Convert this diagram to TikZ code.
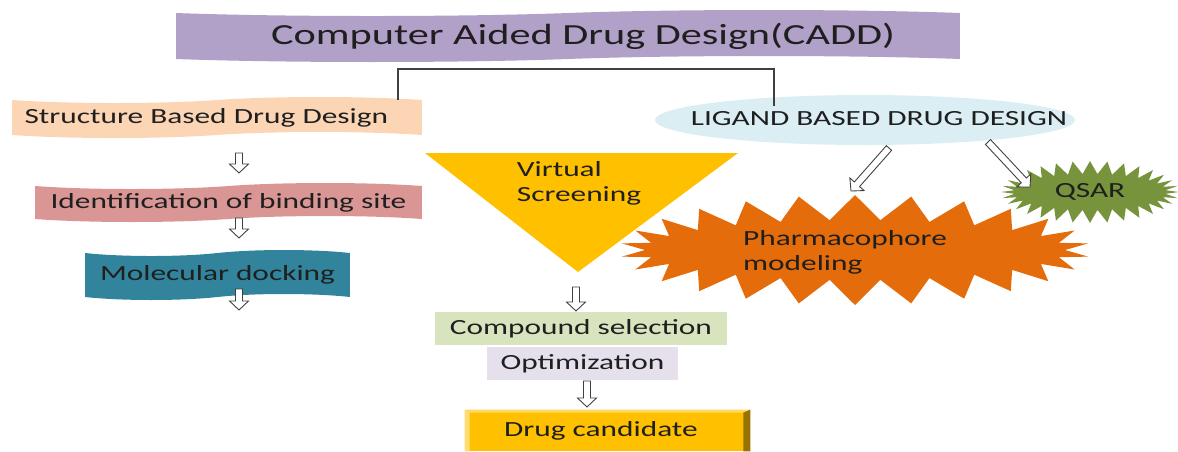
\documentclass[tikz,border=0pt]{standalone}
\usepackage{fontspec}
\setmainfont[FakeStretch=1.45]{Carlito}
\usetikzlibrary{calc,positioning,shapes.symbols,shapes.geometric}
\definecolor{caddpurple}{HTML}{B1A0C7}
\definecolor{sbddpeach}{HTML}{FCD5B5}
\definecolor{identpink}{HTML}{D99694}
\definecolor{dockteal}{HTML}{31849B}
\definecolor{vsyellow}{HTML}{FFC000}
\definecolor{cmpgreen}{HTML}{D7E4BD}
\definecolor{optlilac}{HTML}{E5E0EC}
\definecolor{lbddblue}{HTML}{DBEEF4}
\definecolor{pharmorange}{HTML}{E46C0A}
\definecolor{qsargreen}{HTML}{77933C}
\definecolor{textgrey}{HTML}{1F1F1F}
\newcommand{\titlefont}{\fontsize{16.6}{19}\selectfont}
\newcommand{\boxfont}{\fontsize{12.3}{14.3}\selectfont}
\newcommand{\HollowArrow}[2]% #1=tail, #2=tip: open block arrow from #1 to #2
{\coordinate (hbase) at ($(#2)!0.18cm!(#1)$);
 \filldraw[arrowline] ($(#1)!0.07cm!90:(#2)$) -- ($(hbase)!0.07cm!90:(#2)$)
   -- ($(hbase)!0.19cm!90:(#2)$) -- (#2) -- ($(hbase)!0.19cm!-90:(#2)$)
   -- ($(hbase)!0.07cm!-90:(#2)$) -- ($(#1)!0.07cm!-90:(#2)$) -- cycle;
}

\begin{document}
\begin{tikzpicture}[x=0.02cm,y=-0.02cm,
    font=\boxfont, text=textgrey,
    wave/.style={tape, tape bend height=0.12cm, inner sep=0pt},
    plainbox/.style={rectangle, inner sep=0pt},
    burst/.style={starburst, random starburst=0, inner sep=0pt},
    arrowline/.style={draw=black!75, fill=white, line width=0.5pt},
    joinline/.style={draw=black!75, line width=0.8pt}]

  \useasboundingbox (0,0) rectangle (1178,451);

  \node [wave, fill=caddpurple, minimum width=15.68cm, minimum height=1.04cm] (cadd) at (568,36) {};
  \node [font=\titlefont] (caddtext) at (583,36) {Computer Aided Drug Design(CADD)};
  \node [wave, fill=sbddpeach, minimum width=8.2cm, minimum height=0.82cm, text width=7.7cm, align=left] (sbdd) at (217,117.5) {Structure Based Drug Design};
  \node [wave, fill=identpink, minimum width=7.74cm, minimum height=0.78cm] (ident) at (228.5,202.5) {Identification of binding site};
  \node [wave, fill=dockteal, minimum width=5.3cm, minimum height=1cm] (dock) at (217.5,275) {Molecular docking};

  \fill [vsyellow] (425,153) -- (738,153) -- (578,272) -- cycle;
  \node [align=left] (vs) at (579,183) {Virtual\\Screening};
  \node [plainbox, fill=cmpgreen, minimum width=5.84cm, minimum height=0.66cm] (cmp) at (581,328.5) {Compound selection};
  \node [plainbox, fill=optlilac, minimum width=3.82cm, minimum height=0.66cm] (opt) at (582.5,363.5) {Optimization};
  \node [plainbox, fill=vsyellow, minimum width=5.7cm, minimum height=0.82cm] (drug) at (607.5,430.5) {};
  \fill [vsyellow!60!white] (drug.north west) -- (drug.north east) -- ([shift={(-0.14cm,-0.06cm)}]drug.north east) -- ([shift={(0.1cm,-0.06cm)}]drug.north west) -- cycle;
  \fill [vsyellow!55!white] (drug.north west) -- ([shift={(0.1cm,-0.06cm)}]drug.north west) -- ([xshift=0.1cm]drug.south west) -- (drug.south west) -- cycle;
  \fill [vsyellow!60!black] (drug.north east) -- ([shift={(-0.14cm,-0.06cm)}]drug.north east) -- ([xshift=-0.14cm]drug.south east) -- (drug.south east) -- cycle;
  \node (drugtext) at (601,431) {Drug candidate};

  \fill [lbddblue] (865,120) ellipse [x radius=210, y radius=25];
  \node (lbdd) at (879,119) {LIGAND BASED DRUG DESIGN};
  \node [burst, fill=pharmorange, starburst points=26, starburst point height=0.5cm, minimum width=9.4cm, minimum height=2.2cm] (pharm) at (855,250) {};
  \node [align=left] (pharmtext) at (845,252) {Pharmacophore\\modeling};
  \node [burst, fill=qsargreen, starburst points=32, starburst point height=0.26cm, minimum width=3.56cm, minimum height=1.24cm] (qsar) at (1090,192) {QSAR};

  % joining line from the title
  \coordinate (jl) at (398,69);
  \coordinate (jr) at (774,69);
  \draw [joinline] (sbdd.north -| jl) -- (jl) -- (jr) -- (lbdd.north -| jr);

  \coordinate (a1) at (239,153);
  \coordinate (a2) at (239,173);
  \coordinate (b1) at (239,218);
  \coordinate (b2) at (239,238);
  \coordinate (c1) at (239,289);
  \coordinate (c2) at (239,310);
  \coordinate (d1) at (576,287);
  \coordinate (d2) at (576,311);
  \coordinate (e1) at (587,381);
  \coordinate (e2) at (587,407);
  \coordinate (f1) at (889,148);
  \coordinate (f2) at (851,191);
  \coordinate (g1) at (988,142);
  \coordinate (g2) at (1030,187);
  \HollowArrow {a1}{a2};
  \HollowArrow {b1}{b2};
  \HollowArrow {c1}{c2};
  \HollowArrow {d1}{d2};
  \HollowArrow {e1}{e2};
  \HollowArrow {f1}{f2};
  \HollowArrow {g1}{g2};
\end{tikzpicture}
\end{document}
